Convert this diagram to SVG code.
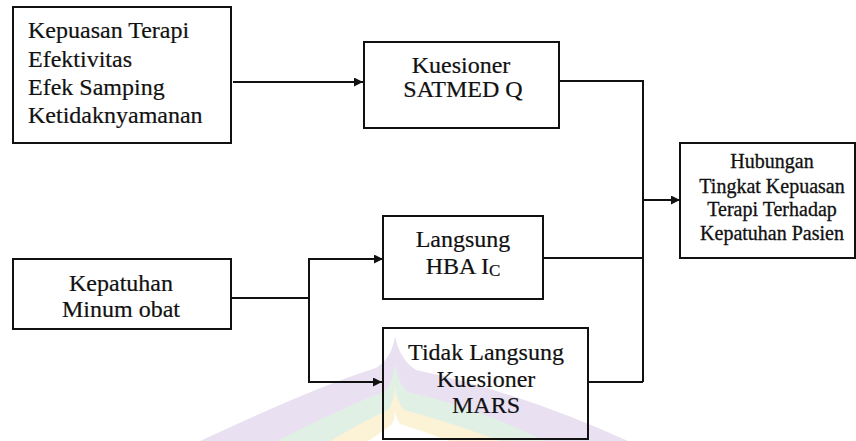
<svg xmlns="http://www.w3.org/2000/svg" width="856" height="441" viewBox="0 0 856 441">
<style>
.box{fill:none;stroke:#111;stroke-width:2}
.t{font-family:'Liberation Serif','Times New Roman',serif;font-size:24px;fill:#111;stroke:#111;stroke-width:0.2}
.tc{text-anchor:middle}
.h{font-family:'Liberation Serif','Times New Roman',serif;font-size:20px;fill:#111;text-anchor:middle;stroke:#111;stroke-width:0.3}
.ln{fill:none;stroke:#111;stroke-width:2}
</style>
<defs>
<marker id="arr" viewBox="0 0 10 10" refX="10" refY="5" markerWidth="10" markerHeight="9" markerUnits="userSpaceOnUse" orient="auto">
<path d="M0,0 L10,5 L0,10 Z" fill="#111"/>
</marker>
</defs>
<rect width="856" height="441" fill="#fff"/>
<g id="watermark">
<path d="M200 441 Q320 385 376 368 Q392 358 395 336 Q400 360 416 370 Q520 392 628 441 Z" fill="#e9e1f2"/>
<path d="M277 441 Q355 402 384 392 Q393 384 395 363 Q398 384 408 392 Q478 408 545 441 Z" fill="#e1f0e5"/>
<path d="M330 441 Q370 418 388 410 Q394 402 395 387 Q397 402 404 410 Q450 422 500 441 Z" fill="#fcf2d6"/>
<path d="M368 441 Q385 430 392 424 Q395 418 395 410 Q396 418 400 424 Q425 432 450 441 Z" fill="#fff"/>
</g>
<g id="connectors">
<line class="ln" x1="233" y1="82" x2="363" y2="82" marker-end="url(#arr)"/>
<polyline class="ln" points="559,81 643,81 643,382"/>
<line class="ln" x1="543" y1="258" x2="643" y2="258"/>
<line class="ln" x1="588" y1="382" x2="643" y2="382"/>
<line class="ln" x1="643" y1="200" x2="680" y2="200" marker-end="url(#arr)"/>
<line class="ln" x1="231" y1="298" x2="309" y2="298"/>
<line class="ln" x1="309" y1="258" x2="309" y2="383"/>
<line class="ln" x1="308" y1="259" x2="383" y2="259" marker-end="url(#arr)"/>
<line class="ln" x1="308" y1="382" x2="382" y2="382" marker-end="url(#arr)"/>
</g>
<g id="n-kepuasan">
<rect class="box" x="13" y="7" width="218" height="136"/>
<text class="t" x="28" y="38">Kepuasan Terapi</text>
<text class="t" x="28" y="67">Efektivitas</text>
<text class="t" x="28" y="95">Efek Samping</text>
<text class="t" x="28" y="123">Ketidaknyamanan</text>
</g>
<g id="n-satmed">
<rect class="box" x="364" y="42" width="195" height="86"/>
<text class="t tc" x="461" y="73">Kuesioner</text>
<text class="t tc" x="463" y="97">SATMED Q</text>
</g>
<g id="n-hubungan">
<rect class="box" x="680" y="143" width="175" height="115"/>
<text class="h" x="772" y="168">Hubungan</text>
<text class="h" x="772" y="193">Tingkat Kepuasan</text>
<text class="h" x="772" y="216">Terapi Terhadap</text>
<text class="h" x="772" y="240">Kepatuhan Pasien</text>
</g>
<g id="n-kepatuhan">
<rect class="box" x="13" y="259" width="218" height="70"/>
<text class="t tc" x="121" y="291">Kepatuhan</text>
<text class="t tc" x="121" y="317">Minum obat</text>
</g>
<g id="n-langsung">
<rect class="box" x="383" y="216" width="160" height="83"/>
<text class="t tc" x="463" y="247">Langsung</text>
<text class="t tc" x="463" y="274">HBA I<tspan font-size="17" dy="2">C</tspan></text>
</g>
<g id="n-tidak">
<rect class="box" x="383" y="328" width="205" height="111"/>
<text class="t tc" x="486" y="360">Tidak Langsung</text>
<text class="t tc" x="486" y="387">Kuesioner</text>
<text class="t tc" x="486" y="413">MARS</text>
</g>
</svg>
